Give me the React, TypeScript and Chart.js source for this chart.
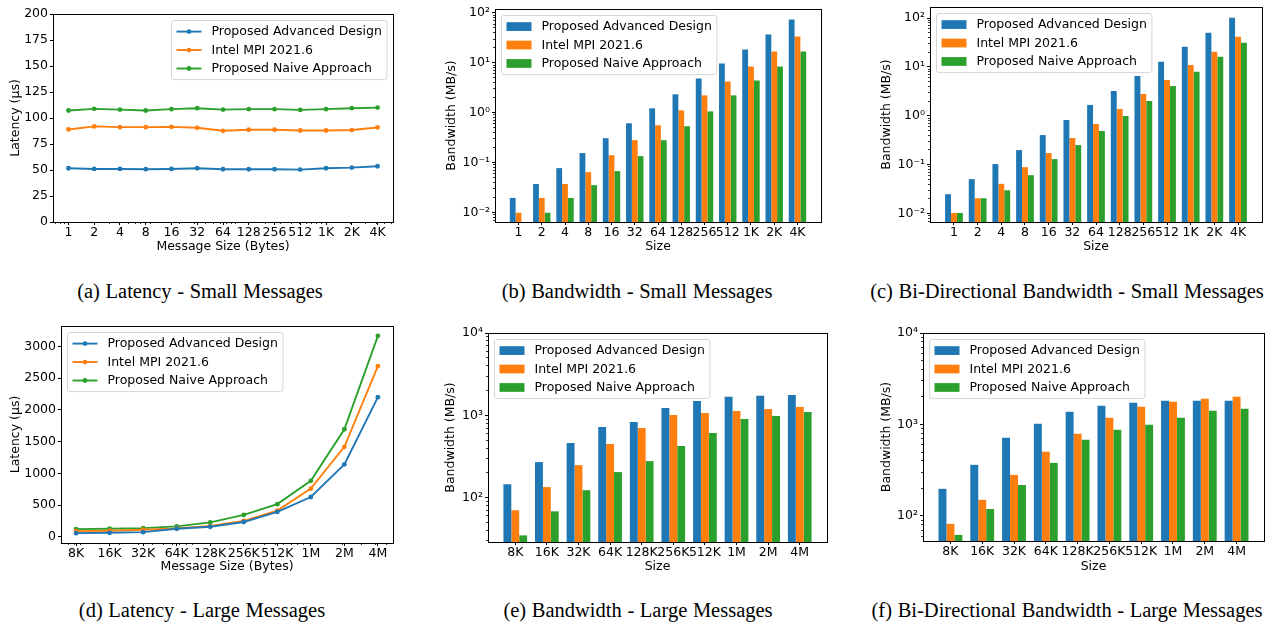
import React, { useEffect, useRef } from "react";
import { Chart, registerables } from "chart.js";

Chart.register(...registerables);

// ---------------- data ----------------
const SERIES = ["Proposed Advanced Design", "Intel MPI 2021.6", "Proposed Naive Approach"];
const COLORS = ["#1f77b4", "#ff7f0e", "#2ca02c"];

const SMALL_LABELS = ["1", "2", "4", "8", "16", "32", "64", "128", "256", "512", "1K", "2K", "4K"];
const SMALL_BYTES = [1, 2, 4, 8, 16, 32, 64, 128, 256, 512, 1024, 2048, 4096];
const LARGE_LABELS = ["8K", "16K", "32K", "64K", "128K", "256K", "512K", "1M", "2M", "4M"];
const LARGE_BYTES = [8192, 16384, 32768, 65536, 131072, 262144, 524288, 1048576, 2097152, 4194304];

const LAT_TICKS_SMALL = [0, 25, 50, 75, 100, 125, 150, 175, 200];
const LAT_TICKS_LARGE = [0, 500, 1000, 1500, 2000, 2500, 3000];

// (a) latency, small messages (µs)
const latSmallAdvanced = [51.7, 51.0, 51.0, 50.7, 51.0, 51.7, 50.7, 50.7, 50.7, 50.4, 51.7, 52.3, 53.6];
const latSmallIntel = [89.0, 91.9, 91.2, 91.2, 91.5, 90.6, 87.7, 88.7, 88.7, 88.0, 88.0, 88.4, 90.9];
const latSmallNaive = [107.2, 108.8, 108.1, 107.2, 108.5, 109.4, 108.1, 108.5, 108.5, 107.8, 108.5, 109.4, 110.0];

// (b) bandwidth, small messages (MB/s)
const bwSmallAdvanced = [0.0194, 0.037, 0.077, 0.154, 0.307, 0.612, 1.22, 2.33, 4.86, 9.7, 18.5, 36.9, 73.6];
const bwSmallIntel = [0.0098, 0.0194, 0.037, 0.064, 0.14, 0.28, 0.558, 1.11, 2.22, 4.24, 8.45, 16.9, 33.6];
const bwSmallNaive = [null, 0.0098, 0.0194, 0.035, 0.067, 0.134, 0.28, 0.533, 1.06, 2.22, 4.43, 8.45, 16.9];

// (c) bi-directional bandwidth, small messages (MB/s)
const biBwSmallAdvanced = [0.0249, 0.0506, 0.103, 0.199, 0.404, 0.822, 1.67, 3.23, 6.56, 12.7, 25.8, 50.0, 101.6];
const biBwSmallIntel = [0.0103, 0.0206, 0.0406, 0.089, 0.173, 0.351, 0.68, 1.38, 2.8, 5.43, 11.0, 20.4, 41.4];
const biBwSmallNaive = [0.0103, 0.0206, 0.03, 0.061, 0.13, 0.252, 0.489, 0.99, 2.01, 4.09, 7.93, 16.1, 31.2];

// (d) latency, large messages (µs)
const latLargeAdvanced = [58, 64, 74, 127, 159, 234, 393, 627, 1142, 2199];
const latLargeIntel = [90, 96, 112, 133, 170, 250, 414, 759, 1418, 2687];
const latLargeNaive = [122, 127, 138, 165, 228, 345, 515, 882, 1694, 3165];

// (e) bandwidth, large messages (MB/s)
const bwLargeAdvanced = [145, 270, 460, 721, 829, 1228, 1495, 1674, 1722, 1770];
const bwLargeIntel = [70, 134, 248, 447, 701, 1009, 1067, 1130, 1195, 1264];
const bwLargeNaive = [34.7, 68, 123, 204, 277, 423, 609, 902, 982, 1099];

// (f) bi-directional bandwidth, large messages (MB/s)
const biBwLargeAdvanced = [198, 362, 714, 1017, 1376, 1600, 1727, 1816, 1816, 1816];
const biBwLargeIntel = [82, 150, 281, 502, 790, 1183, 1561, 1771, 1911, 2009];
const biBwLargeNaive = [62, 119, 218, 380, 679, 874, 991, 1183, 1412, 1485];

const CAPTIONS = [
  "(a) Latency - Small Messages",
  "(b) Bandwidth - Small Messages",
  "(c) Bi-Directional Bandwidth - Small Messages",
  "(d) Latency - Large Messages",
  "(e) Bandwidth - Large Messages",
  "(f) Bi-Directional Bandwidth - Large Messages",
];

// ---------------- styling helpers ----------------
const FONT = '"DejaVu Sans", "Liberation Sans", sans-serif';
const FS = 12.5;

function supExp(n: number): string {
  const map: Record<string, string> = {
    "-": "\u207B", "0": "\u2070", "1": "\u00B9", "2": "\u00B2", "3": "\u00B3",
    "4": "\u2074", "5": "\u2075", "6": "\u2076", "7": "\u2077", "8": "\u2078", "9": "\u2079",
  };
  return "10" + String(n).split("").map((c) => map[c] || c).join("");
}

function logMinorValues(min: number, max: number): number[] {
  const out: number[] = [];
  for (let k = Math.floor(Math.log10(min)) - 1; k <= Math.ceil(Math.log10(max)); k++) {
    for (let m = 2; m <= 9; m++) {
      const v = m * Math.pow(10, k);
      if (v >= min && v <= max) out.push(v);
    }
  }
  return out;
}

const align = (p: number) => Math.round(p - 0.5) + 0.5;

interface Frame { l: number; t: number; r: number; b: number; yTitleX: number; xTitleY: number }
interface Spec {
  kind: "line" | "bar";
  labels: string[];
  bytes: number[];
  series: (number | null)[][];
  yLog: boolean;
  yMin: number;
  yMax: number;
  yTicks?: number[];
  xTitle: string;
  yTitle: string;
  legend: "ul" | "ur";
  frame: Frame;
}

function makePlugins(spec: Spec, xMin: number, xMax: number) {
  let xMinor: number[] = [];
  if (spec.kind === "line") {
    const b0 = spec.bytes[0];
    const lo = b0 * Math.pow(2, xMin);
    const hi = b0 * Math.pow(2, xMax);
    xMinor = logMinorValues(lo, hi).map((v) => Math.log2(v / b0));
  }
  const yMinor = spec.yLog ? logMinorValues(spec.yMin, spec.yMax) : [];

  const frame = {
    id: "mplFrame",
    afterDatasetsDraw(chart: any) {
      const { ctx, chartArea: a, scales } = chart;
      ctx.save();
      ctx.strokeStyle = "#000";
      ctx.lineWidth = 0.8;
      ctx.beginPath();
      xMinor.forEach((v) => {
        const p = scales.x.getPixelForValue(v);
        if (p > a.left + 0.5 && p < a.right - 0.5) {
          const x = align(p);
          ctx.moveTo(x, a.bottom);
          ctx.lineTo(x, a.bottom + 2);
        }
      });
      yMinor.forEach((v) => {
        const p = scales.y.getPixelForValue(v);
        if (p > a.top + 0.5 && p < a.bottom - 0.5) {
          const y = align(p);
          ctx.moveTo(a.left, y);
          ctx.lineTo(a.left - 2, y);
        }
      });
      ctx.stroke();
      ctx.lineWidth = 1;
      const L = align(a.left), R = align(a.right), T = align(a.top), B = align(a.bottom);
      ctx.strokeRect(L, T, R - L, B - T);
      ctx.restore();
    },
  };

  const legend = {
    id: "mplLegend",
    afterDraw(chart: any) {
      const { ctx, chartArea: a } = chart;
      ctx.save();
      ctx.font = `${FS}px ${FONT}`;
      const textW = Math.max(...SERIES.map((s) => ctx.measureText(s).width));
      const pad = 5, hl = 25, htp = 10, rowH = 12.2, sp = 6.25, bap = 6.25;
      const w = pad * 2 + hl + htp + textW;
      const h = pad * 2 + rowH * 3 + sp * 2;
      const x0 = Math.round(spec.legend === "ur" ? a.right - bap - w : a.left + bap) + 0.5;
      const y0 = Math.round(a.top + bap) + 0.5;
      const r = 2.5;
      ctx.beginPath();
      ctx.moveTo(x0 + r, y0);
      ctx.lineTo(x0 + w - r, y0);
      ctx.quadraticCurveTo(x0 + w, y0, x0 + w, y0 + r);
      ctx.lineTo(x0 + w, y0 + h - r);
      ctx.quadraticCurveTo(x0 + w, y0 + h, x0 + w - r, y0 + h);
      ctx.lineTo(x0 + r, y0 + h);
      ctx.quadraticCurveTo(x0, y0 + h, x0, y0 + h - r);
      ctx.lineTo(x0, y0 + r);
      ctx.quadraticCurveTo(x0, y0, x0 + r, y0);
      ctx.closePath();
      ctx.fillStyle = "rgba(255,255,255,0.8)";
      ctx.fill();
      ctx.strokeStyle = "rgba(204,204,204,0.8)";
      ctx.lineWidth = 1;
      ctx.stroke();
      SERIES.forEach((s, i) => {
        const cy = y0 + pad + rowH / 2 + i * (rowH + sp);
        const hx = x0 + pad;
        if (spec.kind === "bar") {
          ctx.fillStyle = COLORS[i];
          ctx.fillRect(hx, cy - 4.4, hl, 8.75);
        } else {
          ctx.strokeStyle = COLORS[i];
          ctx.lineWidth = 1.9;
          ctx.beginPath();
          ctx.moveTo(hx, cy);
          ctx.lineTo(hx + hl, cy);
          ctx.stroke();
          ctx.fillStyle = COLORS[i];
          ctx.beginPath();
          ctx.arc(hx + hl / 2, cy, 2.4, 0, Math.PI * 2);
          ctx.fill();
        }
        ctx.fillStyle = "#000";
        ctx.textBaseline = "middle";
        ctx.textAlign = "left";
        ctx.fillText(s, hx + hl + htp, cy + 0.5);
      });
      ctx.restore();
    },
  };
  return [frame, legend];
}

function makeConfig(spec: Spec, yW: number, xH: number) {
  const n = spec.labels.length;
  let xMin: number, xMax: number;
  if (spec.kind === "bar") {
    const m = 0.05 * (n - 1 + 0.75);
    xMin = -0.375 - m;
    xMax = n - 1 + 0.375 + m;
  } else {
    const m = 0.05 * (n - 1);
    xMin = -m;
    xMax = n - 1 + m;
  }

  const datasets = spec.series.map((vals, si) =>
    spec.kind === "bar"
      ? {
          type: "bar",
          label: SERIES[si],
          data: vals.map((y, i) => ({ x: i, y })),
          backgroundColor: COLORS[si],
          borderWidth: 0,
          categoryPercentage: 0.75,
          barPercentage: 1.0,
        }
      : {
          type: "line",
          label: SERIES[si],
          data: vals.map((y, i) => ({ x: i, y })),
          borderColor: COLORS[si],
          backgroundColor: COLORS[si],
          borderWidth: 1.9,
          pointRadius: 2.4,
          pointBorderWidth: 0,
          pointBackgroundColor: COLORS[si],
          tension: 0,
          fill: false,
        }
  );

  const tickFont = { family: FONT, size: FS, lineHeight: 1.1 };
  const titleFont = { family: FONT, size: FS, lineHeight: 1.2 };
  const grid = {
    display: true,
    drawOnChartArea: false,
    drawTicks: true,
    tickLength: 3,
    color: "#000",
    tickColor: "#000",
    tickWidth: 1,
    offset: false,
  };

  const yScale: any = spec.yLog
    ? {
        type: "logarithmic",
        min: spec.yMin,
        max: spec.yMax,
        bounds: "data",
        beginAtZero: false,
        afterBuildTicks: (s: any) => {
          const t: any[] = [];
          const k0 = Math.ceil(Math.log10(spec.yMin) - 1e-9);
          const k1 = Math.floor(Math.log10(spec.yMax) + 1e-9);
          for (let k = k0; k <= k1; k++) t.push({ value: Math.pow(10, k) });
          s.ticks = t;
        },
        ticks: {
          color: "#000",
          font: { ...tickFont, lineHeight: 1.2 },
          padding: 2,
          autoSkip: false,
          callback: (v: any) => supExp(Math.round(Math.log10(Number(v)))),
        },
      }
    : {
        type: "linear",
        min: spec.yMin,
        max: spec.yMax,
        bounds: "data",
        afterBuildTicks: (s: any) => {
          s.ticks = (spec.yTicks || []).map((v) => ({ value: v }));
        },
        ticks: {
          color: "#000",
          font: { ...tickFont, lineHeight: 1.2 },
          padding: 2,
          autoSkip: false,
          callback: (v: any) => String(v),
        },
      };
  Object.assign(yScale, {
    afterFit: (s: any) => {
      s.width = yW;
    },
    grid,
    border: { display: false },
    title: { display: true, text: spec.yTitle, color: "#000", font: titleFont, padding: { top: 2.5, bottom: 0 } },
  });

  return {
    type: spec.kind,
    data: { datasets },
    options: {
      animation: false,
      responsive: false,
      maintainAspectRatio: false,
      devicePixelRatio: 1,
      events: [],
      layout: { padding: { top: 12, right: 10, left: 0, bottom: 0 } },
      plugins: { legend: { display: false }, tooltip: { enabled: false }, title: { display: false } },
      scales: {
        x: {
          type: "linear",
          min: xMin,
          max: xMax,
          offset: false,
          bounds: "data",
          afterBuildTicks: (s: any) => {
            s.ticks = spec.labels.map((_, i) => ({ value: i }));
          },
          afterFit: (s: any) => {
            s.height = xH;
          },
          ticks: {
            autoSkip: false,
            maxRotation: 0,
            minRotation: 0,
            padding: 1,
            color: "#000",
            font: tickFont,
            callback: (v: any) => spec.labels[Math.round(Number(v))] ?? "",
          },
          grid,
          border: { display: false },
          title: { display: true, text: spec.xTitle, color: "#000", font: titleFont, padding: { top: 0, bottom: 1.5 } },
        },
        y: yScale,
      },
    },
    plugins: makePlugins(spec, xMin, xMax),
  };
}

function Panel({ spec }: { spec: Spec }) {
  const ref = useRef<HTMLCanvasElement | null>(null);
  const f = spec.frame;
  const left = f.yTitleX - 10;
  const top = f.t - 12;
  const width = Math.round(f.r + 10 - left);
  const height = Math.round(f.xTitleY + 10 - top);
  useEffect(() => {
    if (!ref.current) return;
    const chart = new Chart(ref.current, makeConfig(spec, f.l - left, height - (f.b - top)) as any);
    return () => chart.destroy();
  }, []);
  return (
    <canvas
      ref={ref}
      width={width}
      height={height}
      style={{ position: "absolute", left, top, width, height, display: "block" }}
    />
  );
}

const SPECS: Spec[] = [
  {
    kind: "line", labels: SMALL_LABELS, bytes: SMALL_BYTES,
    series: [latSmallAdvanced, latSmallIntel, latSmallNaive],
    yLog: false, yMin: 0, yMax: 200, yTicks: LAT_TICKS_SMALL,
    xTitle: "Message Size (Bytes)", yTitle: "Latency (µs)", legend: "ur",
    frame: { l: 53, t: 14, r: 393, b: 222, yTitleX: 16, xTitleY: 246 },
  },
  {
    kind: "bar", labels: SMALL_LABELS, bytes: SMALL_BYTES,
    series: [bwSmallAdvanced, bwSmallIntel, bwSmallNaive],
    yLog: true, yMin: Math.pow(10, -2.195), yMax: Math.pow(10, 2.08),
    xTitle: "Size", yTitle: "Bandwidth (MB/s)", legend: "ul",
    frame: { l: 495, t: 9, r: 821, b: 222, yTitleX: 452, xTitleY: 246 },
  },
  {
    kind: "bar", labels: SMALL_LABELS, bytes: SMALL_BYTES,
    series: [biBwSmallAdvanced, biBwSmallIntel, biBwSmallNaive],
    yLog: true, yMin: Math.pow(10, -2.172), yMax: Math.pow(10, 2.226),
    xTitle: "Size", yTitle: "Bandwidth (MB/s)", legend: "ul",
    frame: { l: 930, t: 7, r: 1262, b: 222, yTitleX: 887, xTitleY: 246 },
  },
  {
    kind: "line", labels: LARGE_LABELS, bytes: LARGE_BYTES,
    series: [latLargeAdvanced, latLargeIntel, latLargeNaive],
    yLog: false, yMin: -97, yMax: 3320, yTicks: LAT_TICKS_LARGE,
    xTitle: "Message Size (Bytes)", yTitle: "Latency (µs)", legend: "ul",
    frame: { l: 61, t: 326, r: 393, b: 543, yTitleX: 16, xTitleY: 566 },
  },
  {
    kind: "bar", labels: LARGE_LABELS, bytes: LARGE_BYTES,
    series: [bwLargeAdvanced, bwLargeIntel, bwLargeNaive],
    yLog: true, yMin: Math.pow(10, 1.46), yMax: 10000,
    xTitle: "Size", yTitle: "Bandwidth (MB/s)", legend: "ul",
    frame: { l: 488, t: 333, r: 827, b: 542, yTitleX: 451, xTitleY: 566 },
  },
  {
    kind: "bar", labels: LARGE_LABELS, bytes: LARGE_BYTES,
    series: [biBwLargeAdvanced, biBwLargeIntel, biBwLargeNaive],
    yLog: true, yMin: Math.pow(10, 1.726), yMax: 10000,
    xTitle: "Size", yTitle: "Bandwidth (MB/s)", legend: "ul",
    frame: { l: 923, t: 333, r: 1264, b: 541, yTitleX: 887, xTitleY: 566 },
  },
];

const CAPTION_POS = [
  { cx: 200, cy: 291 },
  { cx: 637, cy: 291 },
  { cx: 1067, cy: 291 },
  { cx: 202, cy: 610 },
  { cx: 638, cy: 610 },
  { cx: 1067, cy: 610 },
];

export default function App() {
  return (
    <div style={{ position: "absolute", left: 0, top: 0, width: 1276, height: 622, background: "#fff", overflow: "hidden" }}>
      {SPECS.map((s, i) => (
        <Panel key={i} spec={s} />
      ))}
      {CAPTIONS.map((c, i) => (
        <div
          key={"c" + i}
          style={{
            position: "absolute",
            left: CAPTION_POS[i].cx,
            top: CAPTION_POS[i].cy - 12,
            transform: "translateX(-50%)",
            whiteSpace: "nowrap",
            fontFamily: '"Liberation Serif", "Times New Roman", serif',
            fontSize: 20.5,
            lineHeight: "24px",
            wordSpacing: 0.5,
            color: "#000",
          }}
        >
          {c}
        </div>
      ))}
    </div>
  );
}
